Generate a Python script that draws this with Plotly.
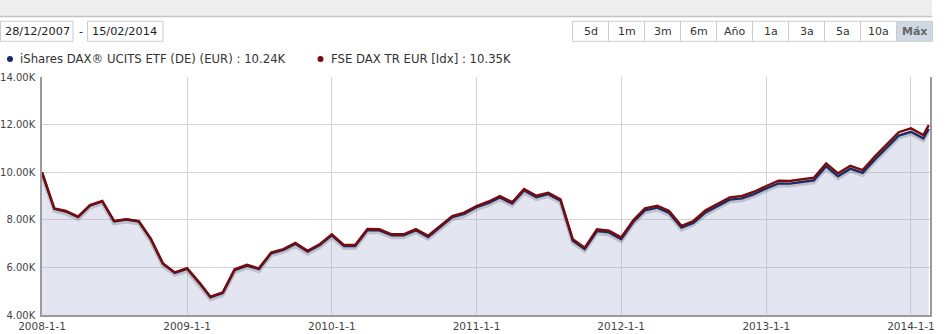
import plotly.graph_objects as go
import pandas as pd

# ---- data (values in thousands) ----
dates = list(pd.date_range("2008-01-01", periods=74, freq="MS").strftime("%Y-%m-%d")) + ["2014-02-15"]

dax_tr = [10.00, 8.48, 8.37, 8.13, 8.62, 8.79, 7.95, 8.03, 7.95, 7.22, 6.17, 5.79,
          5.97, 5.37, 4.77, 4.95, 5.92, 6.11, 5.96, 6.62, 6.77, 7.03, 6.70, 6.97,
          7.39, 6.94, 6.94, 7.61, 7.60, 7.39, 7.39, 7.61, 7.33, 7.74, 8.16, 8.30,
          8.58, 8.77, 9.00, 8.74, 9.29, 9.01, 9.14, 8.86, 7.18, 6.83, 7.60, 7.54,
          7.26, 7.99, 8.48, 8.59, 8.37, 7.75, 7.95, 8.40, 8.66, 8.94, 9.00, 9.18,
          9.42, 9.64, 9.63, 9.70, 9.77, 10.37, 9.95, 10.27, 10.09, 10.65, 11.17, 11.68,
          11.84, 11.56, 11.98]

ishares = [9.98, 8.46, 8.35, 8.11, 8.60, 8.77, 7.93, 8.01, 7.93, 7.20, 6.15, 5.77,
           5.94, 5.34, 4.74, 4.92, 5.89, 6.08, 5.93, 6.59, 6.74, 6.99, 6.66, 6.93,
           7.35, 6.90, 6.90, 7.57, 7.56, 7.35, 7.35, 7.56, 7.28, 7.69, 8.11, 8.25,
           8.53, 8.71, 8.94, 8.68, 9.23, 8.95, 9.08, 8.80, 7.12, 6.77, 7.53, 7.47,
           7.19, 7.92, 8.40, 8.51, 8.29, 7.67, 7.87, 8.31, 8.57, 8.85, 8.90, 9.08,
           9.32, 9.53, 9.52, 9.59, 9.66, 10.25, 9.83, 10.15, 9.97, 10.52, 11.04, 11.54,
           11.70, 11.42, 11.82]

legend_labels = ["iShares DAX® UCITS ETF (DE) (EUR) : 10.24K", "FSE DAX TR EUR [Idx] : 10.35K"]
range_buttons = ["5d", "1m", "3m", "6m", "Año", "1a", "3a", "5a", "10a", "Máx"]
date_from, date_to = "28/12/2007", "15/02/2014"

# ---- layout geometry ----
W, H = 951, 334
L, R, T, B = 42, 930, 77, 315
FONT = "DejaVu Sans"

def px(X):
    return (X - L) / (R - L)

def py(Y):
    return (B - Y) / (B - T)

BLUE = "#1b2a68"
RED = "#7a0b0b"

fig = go.Figure()

# area fill under lowest series
fig.add_trace(go.Scatter(x=dates, y=ishares, mode="lines", line=dict(width=0, color=BLUE),
                         fill="tozeroy", fillcolor="rgba(170,180,210,0.33)",
                         hoverinfo="skip", showlegend=False, yaxis="y"))
# soft shadow (same series on a slightly shifted overlay axis)
fig.add_trace(go.Scatter(x=dates, y=ishares, mode="lines",
                         line=dict(width=4, color="rgba(0,0,0,0.16)"),
                         hoverinfo="skip", showlegend=False, yaxis="y2"))
# lines
fig.add_trace(go.Scatter(x=dates, y=ishares, mode="lines", name=legend_labels[0],
                         line=dict(width=2.4, color=BLUE), showlegend=False, yaxis="y3"))
fig.add_trace(go.Scatter(x=dates, y=dax_tr, mode="lines", name=legend_labels[1],
                         line=dict(width=2.4, color=RED), showlegend=False, yaxis="y3"))

shapes = []
annotations = []

# top grey band
shapes.append(dict(type="rect", xref="paper", yref="paper", x0=px(0), x1=px(932), y0=py(16.5), y1=py(0),
                   fillcolor="#eeeeee", line=dict(width=0), layer="below"))
shapes.append(dict(type="line", xref="paper", yref="paper", x0=px(0), x1=px(932), y0=py(16.5), y1=py(16.5),
                   line=dict(color="#c4c4c4", width=1.5)))

# date boxes
for (x0, x1, txt) in [(0.5, 73, date_from), (87.5, 163, date_to)]:
    shapes.append(dict(type="rect", xref="paper", yref="paper", x0=px(x0), x1=px(x1), y0=py(41.3), y1=py(21.3),
                       fillcolor="white", line=dict(color="#cccccc", width=1)))
    annotations.append(dict(text=txt, xref="paper", yref="paper", x=px(x0 + 2.5), y=py(31.5),
                            xanchor="left", yanchor="middle", showarrow=False,
                            font=dict(family=FONT, size=11.3, color="#222222")))
annotations.append(dict(text="-", xref="paper", yref="paper", x=px(80.5), y=py(31.5),
                        xanchor="center", yanchor="middle", showarrow=False,
                        font=dict(family=FONT, size=11, color="#222222")))

# range buttons
bx0, bw = 572.5, 36
for i, lab in enumerate(range_buttons):
    x0 = bx0 + bw * i
    active = (i == len(range_buttons) - 1)
    shapes.append(dict(type="rect", xref="paper", yref="paper", x0=px(x0), x1=px(x0 + bw), y0=py(41.3), y1=py(21.3),
                       fillcolor="#cfd9e4" if active else "white", line=dict(color="#cccccc", width=1)))
    annotations.append(dict(text=f"<b>{lab}</b>" if active else lab, xref="paper", yref="paper",
                            x=px(x0 + bw / 2), y=py(31.5), xanchor="center", yanchor="middle", showarrow=False,
                            font=dict(family=FONT, size=11, color="#666666" if active else "#333333")))

# custom legend
for (dx, col, lab) in [(10, BLUE, legend_labels[0]), (320.5, RED, legend_labels[1])]:
    shapes.append(dict(type="circle", xref="paper", yref="paper", x0=px(dx - 3), x1=px(dx + 3),
                       y0=py(62), y1=py(56), fillcolor=col, line=dict(width=0)))
    annotations.append(dict(text=lab, xref="paper", yref="paper", x=px(dx + 8), y=py(59),
                            xanchor="left", yanchor="middle", showarrow=False,
                            font=dict(family=FONT, size=11.7, color="#333333")))

shadow_shift = 2 / ((B - T) / 10.0)

fig.update_layout(
    width=W, height=H,
    margin=dict(l=L, r=W - R, t=T, b=H - B, pad=0, autoexpand=False),
    paper_bgcolor="white", plot_bgcolor="white",
    font=dict(family=FONT, size=11, color="#444444"),
    shapes=shapes, annotations=annotations,
    hovermode="x unified",
    xaxis=dict(type="date", range=["2008-01-01", "2014-02-18"], dtick="M12", tick0="2008-01-01",
               tickformat="%Y-%-m-%-d", showgrid=True, gridcolor="#d2d2d2", gridwidth=1,
               showline=True, linecolor="#9a9a9a", linewidth=1.5, zeroline=False, automargin=False,
               ticks="outside", ticklen=1, tickcolor="rgba(0,0,0,0)",
               tickfont=dict(family=FONT, size=10.5, color="#444444")),
    yaxis=dict(range=[4, 14], dtick=2, tick0=4, tickformat=".2f", ticksuffix="K",
               showgrid=True, gridcolor="#d2d2d2", gridwidth=1, zeroline=False, automargin=False,
               showline=True, linecolor="#9a9a9a", linewidth=1.5, mirror=True,
               ticks="outside", ticklen=3, tickcolor="rgba(0,0,0,0)",
               tickfont=dict(family=FONT, size=10, color="#444444")),
    yaxis2=dict(range=[4 + shadow_shift, 14 + shadow_shift], overlaying="y", visible=False),
    yaxis3=dict(range=[4, 14], overlaying="y", visible=False),
)

fig.write_html("out.html")
